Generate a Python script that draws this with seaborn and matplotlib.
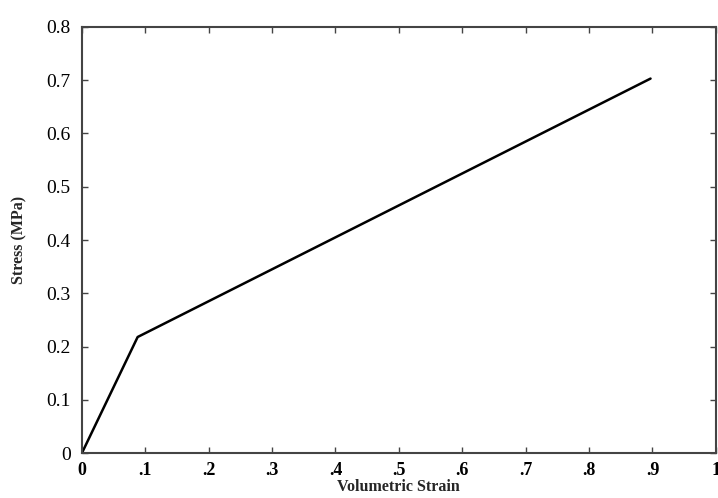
import pandas as pd
import matplotlib.pyplot as plt
import seaborn as sns

# data
strain = [0.0, 0.088, 0.897]
stress = [0.0, 0.218, 0.703]

x_ticks = [0, 0.1, 0.2, 0.3, 0.4, 0.5, 0.6, 0.7, 0.8, 0.9, 1.0]
x_labels = ["0", ".1", ".2", ".3", ".4", ".5", ".6", ".7", ".8", ".9", "1"]
y_ticks = [0, 0.1, 0.2, 0.3, 0.4, 0.5, 0.6, 0.7, 0.8]
y_labels = ["0", "0.1", "0.2", "0.3", "0.4", "0.5", "0.6", "0.7", "0.8"]

df = pd.DataFrame({"strain": strain, "stress": stress})

sns.set_style("ticks")
plt.rcParams["font.family"] = ["Liberation Serif", "DejaVu Serif"]

fig = plt.figure(figsize=(7.18, 4.98), dpi=100)
ax = fig.add_axes([0.114, 0.090, 0.883, 0.856])

sns.lineplot(data=df, x="strain", y="stress", color="black", linewidth=1.8, ax=ax)

ax.set_xlim(0, 1)
ax.set_ylim(0, 0.8)
ax.set_xticks(x_ticks)
ax.set_xticklabels(x_labels, fontweight="bold", fontsize=13)
ax.set_yticks(y_ticks)
ax.set_yticklabels(y_labels, fontsize=14)

ax.tick_params(direction="in", length=4, width=1, top=True, right=True, colors="#444444")
ax.tick_params(axis="x", pad=6, labelcolor="black")
ax.tick_params(axis="y", pad=8, labelcolor="black")
for s in ax.spines.values():
    s.set_visible(True)
    s.set_linewidth(1.5)
    s.set_color("#444444")

ax.set_xlabel("Volumetric Strain", fontweight="bold", fontsize=11.5, labelpad=0)
ax.set_ylabel("Stress (MPa)", fontweight="bold", fontsize=11.5, labelpad=14)

fig.savefig("out.png", dpi=100)
